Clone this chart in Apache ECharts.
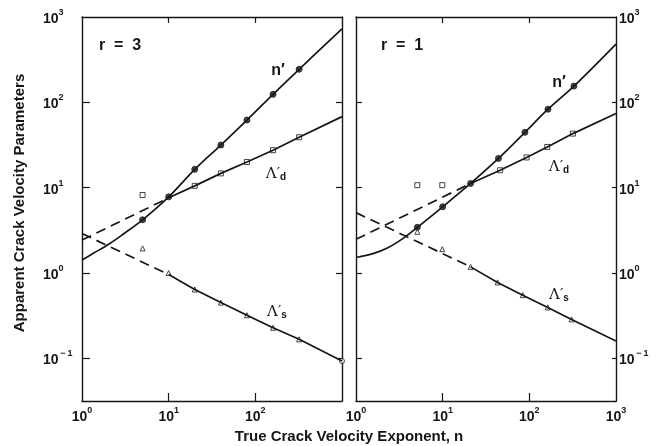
<!DOCTYPE html>
<html>
<head>
<meta charset="utf-8">
<script src="https://cdn.jsdelivr.net/npm/echarts@6/dist/echarts.min.js"></script>
<style>
  html, body { margin: 0; padding: 0; background: #fff; }
  #chart { width: 657px; height: 446px; }
</style>
</head>
<body>
<div id="chart"></div>
<script>
// values: [n, parameter]
// left panel, r = 3
const nPrimeR3Curve = [[1, 1.42], [1.35, 1.7], [2.1, 2.22], [3, 2.86], [5, 4.2], [10, 7.8], [20, 16.4], [40, 31.6], [80, 62], [160, 124], [320, 244], [1000, 724]];
const nPrimeR3Dots = [[5, 4.2], [10, 7.8], [20, 16.4], [40, 31.6], [80, 62], [160, 124], [320, 244]];
const lamDR3Dashed = [[1, 2.43], [10, 7.6]];
const lamDR3Solid = [[10, 7.6], [20, 10.5], [40, 14.7], [80, 20], [160, 27.5], [320, 39], [1000, 68]];
const lamDR3Marks = [[5, 8.2], [20, 10.5], [40, 14.7], [80, 20], [160, 27.5], [320, 39]];
const lamSR3Dashed = [[1, 2.9], [10, 0.96]];
const lamSR3Solid = [[10, 0.96], [20, 0.64], [40, 0.45], [80, 0.32], [160, 0.228], [320, 0.167], [1000, 0.093]];
const lamSR3Marks = [[5, 1.94], [10, 1.0], [20, 0.64], [40, 0.45], [80, 0.32], [160, 0.228], [320, 0.167]];
const lamSR3End = [[1000, 0.093]];

// right panel, r = 1
const nPrimeR1Curve = [[1, 1.52], [1.6, 1.7], [2.3, 1.96], [3.6, 2.6], [5.1, 3.43], [10, 5.97], [21, 11.2], [44, 22], [89, 44.5], [164, 83], [327, 155], [1000, 482]];
const nPrimeR1Dots = [[5.1, 3.43], [10, 5.97], [21, 11.2], [44, 22], [89, 44.5], [164, 83], [327, 155]];
const lamDR1Dashed = [[1, 2.48], [21, 11.2]];
const lamDR1Solid = [[21, 11.2], [46, 16], [93, 22.6], [161, 30], [318, 43], [1000, 74]];
const lamDR1Marks = [[5.1, 10.7], [9.9, 10.7], [46, 16], [93, 22.6], [161, 30], [318, 43]];
const lamSR1Dashed = [[1, 5.1], [21, 1.18]];
const lamSR1Solid = [[21, 1.18], [43, 0.776], [84, 0.55], [163, 0.395], [307, 0.286], [1000, 0.16]];
const lamSR1Marks = [[5.1, 3.04], [9.9, 1.9], [21, 1.18], [43, 0.776], [84, 0.55], [163, 0.395], [307, 0.286]];

// tick exponents (decades)
const xDecades = [0, 1, 2, 3];
const yDecades = [-1, 0, 1, 2, 3];

const FONT = '"Liberation Sans", Arial, sans-serif';
const INK = '#161616';

const lg = pts => pts.map(([x, y]) => [Math.log10(x), Math.log10(y)]);
const sup = v => '{b|10}{s|' + (v < 0 ? '\u2009\u2212\u20091' : String(v)) + '}';
const supRich = {
  b: { fontSize: 14, fontWeight: 'bold', fontFamily: FONT, color: INK, lineHeight: 18, verticalAlign: 'bottom' },
  s: { fontSize: 9, fontWeight: 'bold', fontFamily: FONT, color: INK, lineHeight: 10, verticalAlign: 'top' }
};

const axisLine = { show: true, onZero: false, lineStyle: { color: INK, width: 1.4 } };

function xAx(grid, pos, showLabel, hideLast) {
  return {
    type: 'value', gridIndex: grid, position: pos, min: 0, max: 3, interval: 1,
    axisLine, splitLine: { show: false },
    axisTick: { inside: true, length: pos === 'bottom' ? 8 : 6, customValues: [1, 2], lineStyle: { color: INK, width: 1.2 } },
    axisLabel: {
      show: showLabel, margin: 5, customValues: xDecades,
      formatter: v => (hideLast && v === 3) ? '' : sup(v),
      rich: supRich
    }
  };
}
function yAx(grid, pos, showLabel, margin, tickLen) {
  return {
    type: 'value', gridIndex: grid, position: pos, min: -1.5, max: 3,
    axisLine, splitLine: { show: false },
    axisTick: { inside: true, length: tickLen, customValues: yDecades.slice(0, 4), lineStyle: { color: INK, width: 1.2 } },
    axisLabel: {
      show: showLabel, margin, align: 'left', customValues: yDecades,
      formatter: v => sup(v), rich: supRich
    }
  };
}

function line(data, grid, dashed, smooth) {
  return {
    type: 'line', xAxisIndex: grid * 2, yAxisIndex: grid * 2, data: lg(data),
    showSymbol: false, smooth: smooth ? 0.35 : false, silent: true,
    lineStyle: { color: INK, width: 1.7, type: dashed ? [10, 6] : 'solid' }
  };
}
function marks(data, grid, symbol, filled, size) {
  return {
    type: 'scatter', xAxisIndex: grid * 2, yAxisIndex: grid * 2, data: lg(data),
    symbol, symbolSize: size, silent: true,
    itemStyle: { color: filled ? INK : '#fff', borderColor: INK, borderWidth: 1 }
  };
}

function txt(x, y, text, size, rich) {
  return {
    type: 'text', x, y,
    style: { text, fontSize: size, fontWeight: 'bold', fontFamily: FONT, fill: INK, align: 'center', verticalAlign: 'middle', rich }
  };
}
const lamRich = {
  l: { fontSize: 15, fontFamily: '"DejaVu Serif", serif', color: INK, lineHeight: 16, verticalAlign: 'bottom' },
  sub: { fontSize: 10, fontWeight: 'bold', fontFamily: FONT, color: INK, lineHeight: 10, verticalAlign: 'bottom' }
};

const chart = echarts.init(document.getElementById('chart'));
chart.setOption({
  animation: false,
  backgroundColor: '#fff',
  grid: [
    { left: 82, top: 17, width: 260, height: 384 },
    { left: 356, top: 17, width: 260, height: 384 }
  ],
  xAxis: [
    xAx(0, 'bottom', true, true),
    xAx(0, 'top', false),
    xAx(1, 'bottom', true, false),
    xAx(1, 'top', false)
  ],
  yAxis: [
    yAx(0, 'left', true, 39, 8),
    yAx(0, 'right', false, 0, 6),
    yAx(1, 'left', false, 0, 6),
    yAx(1, 'right', true, 3, 4)
  ],
  series: [
    line(nPrimeR3Curve, 0, false, true),
    line(lamDR3Dashed, 0, true),
    line(lamDR3Solid, 0, false),
    line(lamSR3Dashed, 0, true),
    line(lamSR3Solid, 0, false),
    marks(nPrimeR3Dots, 0, 'circle', true, 6),
    marks(lamDR3Marks, 0, 'rect', false, 5),
    marks(lamSR3Marks, 0, 'triangle', false, 5),
    marks(lamSR3End, 0, 'circle', false, 5),

    line(nPrimeR1Curve, 1, false, true),
    line(lamDR1Dashed, 1, true),
    line(lamDR1Solid, 1, false),
    line(lamSR1Dashed, 1, true),
    line(lamSR1Solid, 1, false),
    marks(nPrimeR1Dots, 1, 'circle', true, 6),
    marks(lamDR1Marks, 1, 'rect', false, 5),
    marks(lamSR1Marks, 1, 'triangle', false, 5)
  ],
  graphic: [
    Object.assign(txt(20, 203, 'Apparent Crack Velocity Parameters', 15), { rotation: Math.PI / 2 }),
    txt(349, 437, 'True Crack Velocity Exponent, n', 15),
    txt(120, 46, 'r  =  3', 16),
    txt(402, 46, 'r  =  1', 16),
    txt(278, 71, 'n\u2032', 16),
    txt(559, 83, 'n\u2032', 16),
    txt(276, 174, '{l|\u039B\u2032}{sub|d}', 15, lamRich),
    txt(559, 167, '{l|\u039B\u2032}{sub|d}', 15, lamRich),
    txt(277, 312, '{l|\u039B\u2032}{sub|s}', 15, lamRich),
    txt(559, 295, '{l|\u039B\u2032}{sub|s}', 15, lamRich)
  ]
});
</script>
</body>
</html>
